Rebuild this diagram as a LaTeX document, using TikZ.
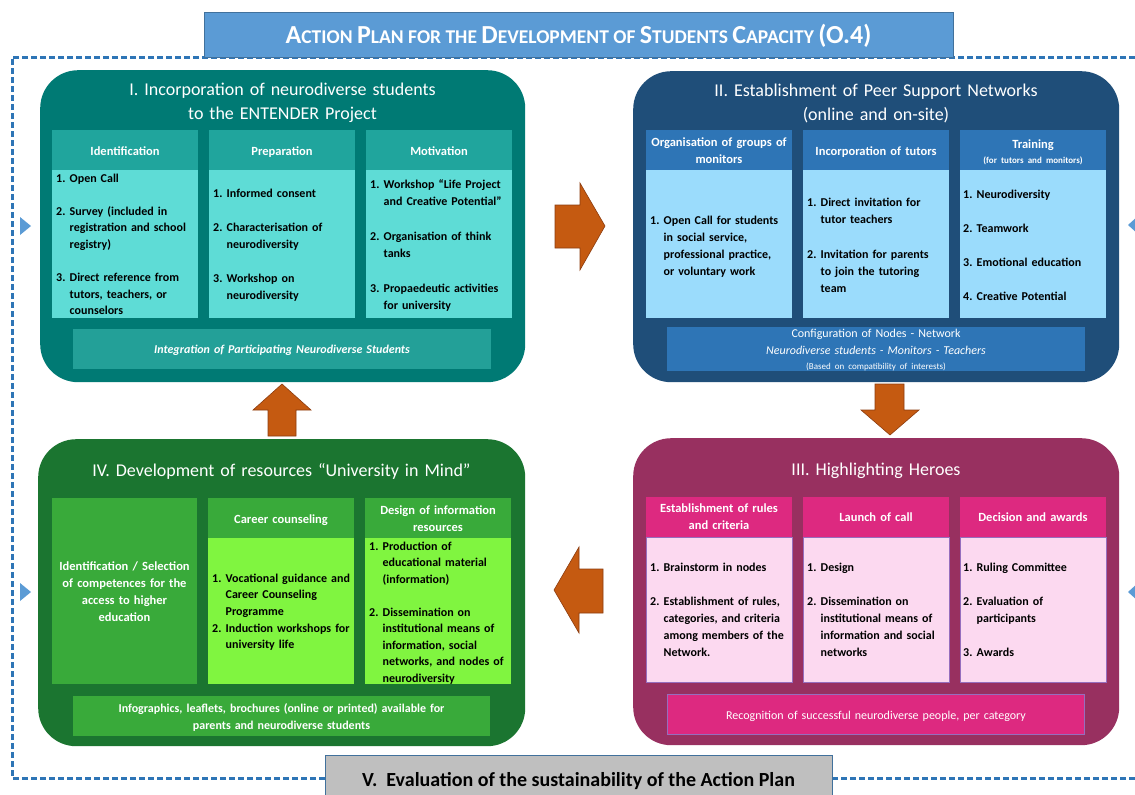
\documentclass[tikz,border=0pt]{standalone}
\usepackage{fontspec}
\usepackage{graphicx}
\setmainfont{Carlito}
\definecolor{qIbg}{RGB}{0,122,116}
\definecolor{qIhd}{RGB}{32,165,157}
\definecolor{qIbd}{RGB}{94,220,214}
\definecolor{qIbar}{RGB}{35,160,152}
\definecolor{qIIbg}{RGB}{31,78,121}
\definecolor{qIIhd}{RGB}{46,117,182}
\definecolor{qIIbd}{RGB}{155,220,252}
\definecolor{qIIIbg}{RGB}{152,48,96}
\definecolor{qIIIhd}{RGB}{221,41,128}
\definecolor{qIIIbd}{RGB}{252,217,240}
\definecolor{qIIIln}{RGB}{150,110,190}
\definecolor{qIVbg}{RGB}{27,117,48}
\definecolor{qIVhd}{RGB}{57,170,58}
\definecolor{qIVbd}{RGB}{128,245,64}
\definecolor{arrowc}{RGB}{197,90,17}
\definecolor{arrowd}{RGB}{140,60,15}
\definecolor{titlec}{RGB}{91,155,213}
\definecolor{titled}{RGB}{65,113,156}
\definecolor{dashc}{RGB}{46,117,182}
\definecolor{grayc}{RGB}{191,191,191}
\newcommand\numi[1]{\makebox[13.5pt][l]{#1}}
\newcommand\cont{\hspace*{13.5pt}}
\newcommand\bigL[1]{{\fontsize{26}{26}\selectfont #1}}
\newcommand\smL[1]{{\fontsize{19.5}{19.5}\selectfont #1}}
\begin{document}
\begin{tikzpicture}[x=1pt,y=-1pt,
  panel/.style={anchor=north west, inner sep=0, rounded corners=38pt, draw=none},
  cell/.style={anchor=north west, inner sep=0, draw=none},
  ptitle/.style={anchor=base, inner sep=0, text width=480pt, align=center, text=white, font=\fontsize{18}{24.5}\selectfont},
  hd/.style={anchor=base, inner sep=0, text width=146pt, align=center, text=white, font=\bfseries\fontsize{12.5}{17}\selectfont},
  bd/.style={anchor=base west, inner sep=0, text width=150pt, align=left, text=black, font=\bfseries\fontsize{12}{17}\selectfont},
  bartext/.style={anchor=base, inner sep=0, text width=420pt, align=center, text=white, font=\fontsize{12}{17}\selectfont},
  blockarrow/.style={fill=arrowc, draw=arrowd, line width=0.6pt},
  tri/.style={fill=titlec},
  dashline/.style={draw=dashc, line width=3pt, dash pattern=on 6pt off 3pt}]
\useasboundingbox (0,0) rectangle (1135,795);
\fill[white] (0,0) rectangle (1135,795);

% outer dashed frame
\draw[dashline] (1135,57) -- (12,57) -- (12,778) -- (1135,778);

% title box
\node[cell, fill=titlec, draw=titled, line width=0.8pt, minimum width=749pt, minimum height=45pt] (titlebox) at (204,12) {};
\node[anchor=base, inner sep=0, text=white, font=\bfseries\fontsize{19.5}{22}\selectfont] (titletext) at (578.5,43)
 {\bigL{A}\smL{CTION} \bigL{P}\smL{LAN FOR THE} \bigL{D}\smL{EVELOPMENT OF} \bigL{S}\smL{TUDENTS} \bigL{C}\smL{APACITY} \bigL{(O.4)}};

% bottom box V
\node[cell, fill=grayc, draw=titled, line width=0.8pt, minimum width=507pt, minimum height=50pt] (vbox) at (325,755) {};
\node[anchor=base, inner sep=0, text=black, font=\bfseries\fontsize{20}{22}\selectfont] (vtext) at (578.5,786)
 {V.\ \ Evaluation of the sustainability of the Action Plan};

% side triangles
\fill[tri] (20,217) -- (31,226) -- (20,235) -- cycle;
\fill[tri] (20,583) -- (31,592) -- (20,601) -- cycle;
\fill[tri] (1128,225) -- (1138,216) -- (1138,234) -- cycle;
\fill[tri] (1128,592) -- (1138,583) -- (1138,601) -- cycle;

% ===== Panel I =====
\node[panel, fill=qIbg, minimum width=485pt, minimum height=312pt] (q1) at (40,70) {};
\node[ptitle] (q1t) at (282.5,95) {I. Incorporation of neurodiverse students\\to the ENTENDER Project};
\node[cell, fill=qIhd, minimum width=146pt, minimum height=40pt] (q1ah) at (52,130) {};
\node[cell, fill=qIbd, minimum width=146pt, minimum height=148pt] (q1ab) at (52,170) {};
\node[cell, fill=qIhd, minimum width=146pt, minimum height=40pt] (q1bh) at (209,130) {};
\node[cell, fill=qIbd, minimum width=146pt, minimum height=148pt] (q1bb) at (209,170) {};
\node[cell, fill=qIhd, minimum width=146pt, minimum height=40pt] (q1ch) at (366,130) {};
\node[cell, fill=qIbd, minimum width=146pt, minimum height=148pt] (q1cb) at (366,170) {};
\node[cell, fill=qIbar, minimum width=418pt, minimum height=40pt] (q1bar) at (73,329) {};
\node[hd] (q1aht) at (125,155) {Identification};
\node[hd] (q1bht) at (282,155) {Preparation};
\node[hd] (q1cht) at (439,155) {Motivation};
\node[bd, font=\bfseries\fontsize{12}{16.6}\selectfont] (q1abt) at (56,182)
 {\numi{1.}Open Call\\[16.6pt]\numi{2.}Survey (included in\\\cont registration and school\\\cont registry)\\[16.6pt]\numi{3.}Direct reference from\\\cont tutors, teachers, or\\\cont counselors};
\node[bd] (q1bbt) at (213,197)
 {\numi{1.}Informed consent\\[17pt]\numi{2.}Characterisation of\\\cont neurodiversity\\[17pt]\numi{3.}Workshop on\\\cont neurodiversity};
\node[bd] (q1cbt) at (370,188)
 {\numi{1.}Workshop “Life Project\\\cont and Creative Potential”\\[18pt]\numi{2.}Organisation of think\\\cont tanks\\[18pt]\numi{3.}Propaedeutic activities\\\cont for university};
\node[bartext, font=\bfseries\itshape\fontsize{12}{17}\selectfont] (q1bart) at (282,353) {Integration of Participating Neurodiverse Students};

% ===== Panel II =====
\node[panel, fill=qIIbg, minimum width=486pt, minimum height=311pt] (q2) at (633,71) {};
\node[ptitle] (q2t) at (876,96) {II. Establishment of Peer Support Networks\\(online and on-site)};
\node[cell, fill=qIIhd, minimum width=146pt, minimum height=40pt] (q2ah) at (646,130) {};
\node[cell, fill=qIIbd, minimum width=146pt, minimum height=148pt] (q2ab) at (646,170) {};
\node[cell, fill=qIIhd, minimum width=146pt, minimum height=40pt] (q2bh) at (803,130) {};
\node[cell, fill=qIIbd, minimum width=146pt, minimum height=148pt] (q2bb) at (803,170) {};
\node[cell, fill=qIIhd, minimum width=146pt, minimum height=40pt] (q2ch) at (960,130) {};
\node[cell, fill=qIIbd, minimum width=146pt, minimum height=148pt] (q2cb) at (960,170) {};
\node[cell, fill=qIIhd, minimum width=418pt, minimum height=44pt] (q2bar) at (667,327) {};
\node[hd] (q2aht) at (719,146) {Organisation of groups of\\monitors};
\node[hd] (q2bht) at (876,155) {Incorporation of tutors};
\node[hd] (q2cht) at (1033,148) {Training\\[-2pt]{\fontsize{9}{11}\selectfont (for tutors and monitors)}};
\node[bd] (q2abt) at (650,224)
 {\numi{1.}Open Call for students\\\cont in social service,\\\cont professional practice,\\\cont or voluntary work};
\node[bd] (q2bbt) at (807,206)
 {\numi{1.}Direct invitation for\\\cont tutor teachers\\[18pt]\numi{2.}Invitation for parents\\\cont to join the tutoring\\\cont team};
\node[bd] (q2cbt) at (963,198)
 {\numi{1.}Neurodiversity\\[17pt]\numi{2.}Teamwork\\[17pt]\numi{3.}Emotional education\\[17pt]\numi{4.}Creative Potential};
\node[bartext] (q2bart) at (876,337)
 {Configuration of Nodes - Network\\\textit{Neurodiverse students - Monitors - Teachers}\\[-2pt]{\fontsize{9}{11}\selectfont (Based on compatibility of interests)}};

% ===== Panel III =====
\node[panel, fill=qIIIbg, minimum width=486pt, minimum height=307pt] (q3) at (633,438) {};
\node[ptitle] (q3t) at (876,475) {III. Highlighting Heroes};
\node[cell, fill=qIIIhd, minimum width=146pt, minimum height=40pt] (q3ah) at (646,497) {};
\node[cell, fill=qIIIbd, draw=qIIIln, line width=0.6pt, minimum width=146pt, minimum height=145pt] (q3ab) at (646,537) {};
\node[cell, fill=qIIIhd, minimum width=146pt, minimum height=40pt] (q3bh) at (803,497) {};
\node[cell, fill=qIIIbd, draw=qIIIln, line width=0.6pt, minimum width=146pt, minimum height=145pt] (q3bb) at (803,537) {};
\node[cell, fill=qIIIhd, minimum width=146pt, minimum height=40pt] (q3ch) at (960,497) {};
\node[cell, fill=qIIIbd, draw=qIIIln, line width=0.6pt, minimum width=146pt, minimum height=145pt] (q3cb) at (960,537) {};
\node[cell, fill=qIIIhd, draw=qIIIln, line width=0.6pt, minimum width=417pt, minimum height=40pt] (q3bar) at (667,694) {};
\node[hd] (q3aht) at (719,512) {Establishment of rules\\and criteria};
\node[hd] (q3bht) at (876,521) {Launch of call};
\node[hd] (q3cht) at (1033,521) {Decision and awards};
\node[bd] (q3abt) at (650,571)
 {\numi{1.}Brainstorm in nodes\\[17pt]\numi{2.}Establishment of rules,\\\cont categories, and criteria\\\cont among members of the\\\cont Network.};
\node[bd] (q3bbt) at (807,571)
 {\numi{1.}Design\\[17pt]\numi{2.}Dissemination on\\\cont institutional means of\\\cont information and social\\\cont networks};
\node[bd] (q3cbt) at (963,571)
 {\numi{1.}Ruling Committee\\[17pt]\numi{2.}Evaluation of\\\cont participants\\[17pt]\numi{3.}Awards};
\node[bartext] (q3bart) at (876,719) {Recognition of successful neurodiverse people, per category};

% ===== Panel IV =====
\node[panel, fill=qIVbg, minimum width=487pt, minimum height=307pt] (q4) at (38,439) {};
\node[ptitle] (q4t) at (281.5,476) {IV. Development of resources “University in Mind”};
\node[cell, fill=qIVhd, minimum width=145pt, minimum height=186pt] (q4a) at (52,498) {};
\node[cell, fill=qIVhd, minimum width=146pt, minimum height=40pt] (q4bh) at (208,498) {};
\node[cell, fill=qIVbd, minimum width=146pt, minimum height=146pt] (q4bb) at (208,538) {};
\node[cell, fill=qIVhd, minimum width=146pt, minimum height=40pt] (q4ch) at (365,498) {};
\node[cell, fill=qIVbd, minimum width=146pt, minimum height=146pt] (q4cb) at (365,538) {};
\node[cell, fill=qIVhd, minimum width=417pt, minimum height=40pt] (q4bar) at (73,696) {};
\node[hd] (q4at) at (124.5,570) {Identification / Selection\\of competences for the\\access to higher\\education};
\node[hd] (q4bht) at (281,523) {Career counseling};
\node[hd] (q4cht) at (438,514) {Design of information\\resources};
\node[bd, font=\bfseries\fontsize{12}{16.7}\selectfont] (q4bbt) at (212,582)
 {\numi{1.}Vocational guidance and\\\cont Career Counseling\\\cont Programme\\\numi{2.}Induction workshops for\\\cont university life};
\node[bd, font=\bfseries\fontsize{12}{16.5}\selectfont] (q4cbt) at (369,550)
 {\numi{1.}Production of\\\cont educational material\\\cont (information)\\[16.5pt]\numi{2.}Dissemination on\\\cont institutional means of\\\cont information, social\\\cont networks, and nodes of\\\cont neurodiversity};
\node[bartext, font=\bfseries\fontsize{12}{17}\selectfont] (q4bart) at (281.5,712)
 {Infographics, leaflets, brochures (online or printed) available for\\parents and neurodiverse students};

% ===== block arrows =====
\draw[blockarrow] (555,205) -- (580,205) -- (580,183) -- (605,226) -- (580,270) -- (580,248) -- (555,248) -- cycle;
\draw[blockarrow] (875,384) -- (904,384) -- (904,410) -- (919,410) -- (890,435) -- (861,410) -- (875,410) -- cycle;
\draw[blockarrow] (603,569) -- (579,569) -- (579,547) -- (554,590) -- (579,633) -- (579,613) -- (603,613) -- cycle;
\draw[blockarrow] (268,436) -- (268,410) -- (253,410) -- (282,384) -- (311,410) -- (296,410) -- (296,436) -- cycle;
\end{tikzpicture}
\end{document}
